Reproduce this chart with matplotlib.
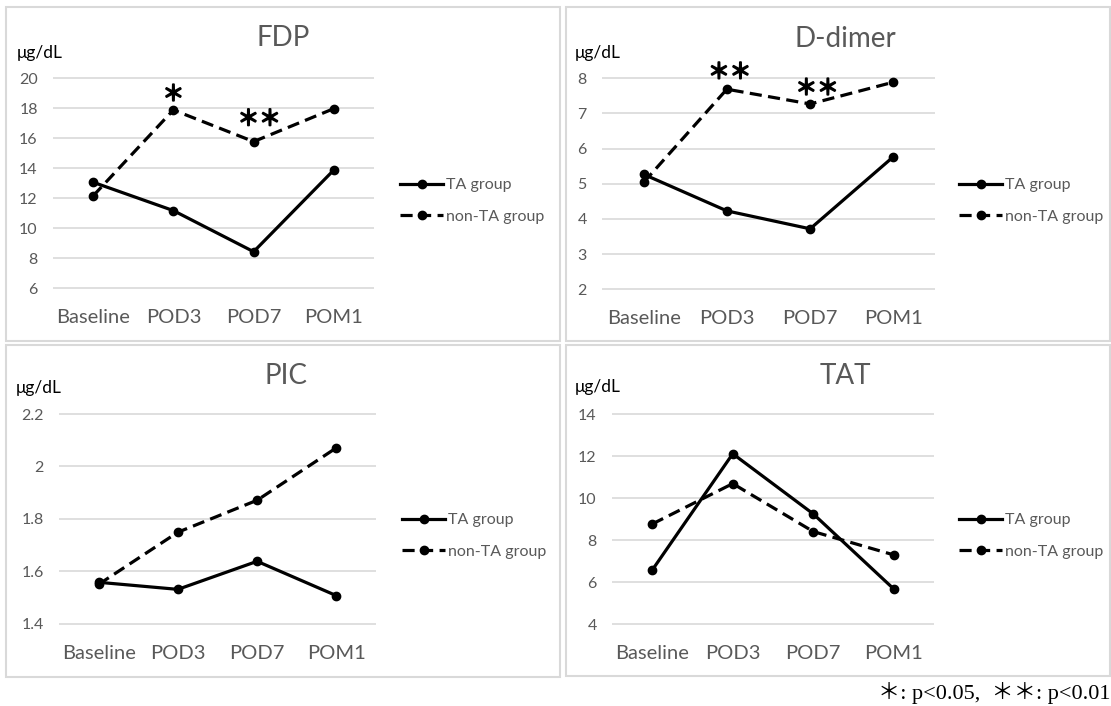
import matplotlib
matplotlib.use("Agg")
import matplotlib.pyplot as plt
from matplotlib.patches import Rectangle
import matplotlib.patheffects as pe

# ---------------- data ----------------
categories = ["Baseline", "POD3", "POD7", "POM1"]
series_names = ["TA group", "non-TA group"]

fdp_ta = [13.07, 11.18, 8.44, 13.89]
fdp_non = [12.16, 17.89, 15.78, 17.98]
fdp_ticks = [6, 8, 10, 12, 14, 16, 18, 20]

dd_ta = [5.27, 4.23, 3.72, 5.77]
dd_non = [5.04, 7.69, 7.27, 7.89]
dd_ticks = [2, 3, 4, 5, 6, 7, 8]

pic_ta = [1.558, 1.531, 1.638, 1.507]
pic_non = [1.550, 1.749, 1.871, 2.071]
pic_ticks = [1.4, 1.6, 1.8, 2.0, 2.2]
pic_labels = ["1.4", "1.6", "1.8", "2", "2.2"]

tat_ta = [6.58, 12.11, 9.25, 5.68]
tat_non = [8.77, 10.69, 8.41, 7.30]
tat_ticks = [4, 6, 8, 10, 12, 14]

fdp_sig = {1: "＊", 2: "＊＊"}
dd_sig = {1: "＊＊", 2: "＊＊"}

unit = "μg/dL"
footnote = "＊: p<0.05,  ＊＊: p<0.01"

# ---------------- layout ----------------
W, H = 1111, 706
fig = plt.figure(figsize=(W / 100, H / 100), dpi=100)
fig.patch.set_facecolor("white")

FONT = ["Lato", "DejaVu Sans"]
GRAY = "#595959"
GRID = "#d9d9d9"


def rect(x0, x1, ytop, ybot):
    return [x0 / W, 1 - ybot / H, (x1 - x0) / W, (ybot - ytop) / H]


# panel borders
for (x0, y0, x1, y1) in [(6, 7, 560, 341), (566, 7, 1110, 341),
                         (6, 345, 560, 677), (566, 345, 1110, 676)]:
    fig.patches.append(Rectangle((x0 / W, 1 - y1 / H), (x1 - x0) / W, (y1 - y0) / H,
                                 transform=fig.transFigure, fill=False,
                                 edgecolor=GRID, lw=1.5))

panels = [
    dict(title="FDP", ta=fdp_ta, non=fdp_non, ticks=fdp_ticks, labels=None,
         pos=(53, 374, 78.3, 288.3), title_xy=(283, 38), unit_xy=(17, 53),
         leg=(400, 201), sig=fdp_sig,
         sig_off={1: (0, 11), 2: (4, 16)}),
    dict(title="D-dimer", ta=dd_ta, non=dd_non, ticks=dd_ticks, labels=None,
         pos=(602, 935, 78.3, 289.3), title_xy=(845, 39), unit_xy=(575, 53),
         leg=(959, 201), sig=dd_sig,
         sig_off={1: (2, 12), 2: (5, 11)}),
    dict(title="PIC", ta=pic_ta, non=pic_non, ticks=pic_ticks, labels=pic_labels,
         pos=(59, 376, 414, 623.7), title_xy=(286, 376), unit_xy=(16, 388),
         leg=(402, 536), sig={}, sig_off={}),
    dict(title="TAT", ta=tat_ta, non=tat_non, ticks=tat_ticks, labels=None,
         pos=(612, 934, 414, 624.3), title_xy=(845, 376), unit_xy=(575, 387),
         leg=(959, 536), sig={}, sig_off={}),
]

x = list(range(len(categories)))

for p in panels:
    ax = fig.add_axes(rect(*p["pos"]))
    ax.set_xlim(-0.5, len(categories) - 0.5)
    ax.set_ylim(p["ticks"][0], p["ticks"][-1])
    ax.patch.set_alpha(0)
    for s in ax.spines.values():
        s.set_visible(False)
    ax.hlines(p["ticks"], -0.5, len(categories) - 0.5, colors=GRID, lw=1.2,
              clip_on=False, zorder=0)
    l1, = ax.plot(x, p["ta"], color="black", lw=2.3, marker="o", ms=6,
                  solid_joinstyle="round", zorder=3, clip_on=False)
    l2, = ax.plot(x, p["non"], color="black", lw=2.3, marker="o", ms=6,
                  linestyle=(0, (3.8, 2)), zorder=3, clip_on=False)
    ax.set_yticks(p["ticks"])
    if p["labels"]:
        ax.set_yticklabels(p["labels"])
    ax.set_xticks(x)
    ax.set_xticklabels(categories)
    ax.tick_params(axis="y", length=0, pad=11, labelsize=11.5, labelcolor=GRAY)
    ax.tick_params(axis="x", length=0, pad=15, labelsize=14.5, labelcolor=GRAY)
    for lab in ax.get_xticklabels() + ax.get_yticklabels():
        lab.set_family(FONT)

    fig.text(p["title_xy"][0] / W, 1 - p["title_xy"][1] / H, p["title"],
             ha="center", va="center", fontsize=20, color=GRAY, family=FONT)
    fig.text(p["unit_xy"][0] / W, 1 - p["unit_xy"][1] / H, unit,
             ha="left", va="center", fontsize=12.5, color="black", family=FONT)

    leg = ax.legend([l1, l2], series_names, loc="center left",
                    bbox_to_anchor=(p["leg"][0] / W, 1 - p["leg"][1] / H),
                    bbox_transform=fig.transFigure, frameon=False,
                    handlelength=2.7, handletextpad=0.15, labelspacing=1.1,
                    borderpad=0, borderaxespad=0,
                    prop={"family": FONT, "size": 11.5})
    for t in leg.get_texts():
        t.set_color(GRAY)

    for i, s in p["sig"].items():
        dx, dy = p["sig_off"][i]
        ax.annotate(s, (x[i], p["non"][i]), xytext=(dx, dy),
                    textcoords="offset points", ha="center", va="center",
                    fontsize=15.5, color="black",
                    family=["Noto Sans CJK JP", "DejaVu Sans"],
                    path_effects=[pe.withStroke(linewidth=1.3, foreground="black")])

fig.text(1110 / W, 1 - 693 / H, footnote, ha="right", va="center",
         fontsize=16, color="black",
         family=["Liberation Serif", "Noto Sans CJK JP"])

fig.savefig("out.png", dpi=100, facecolor="white")
